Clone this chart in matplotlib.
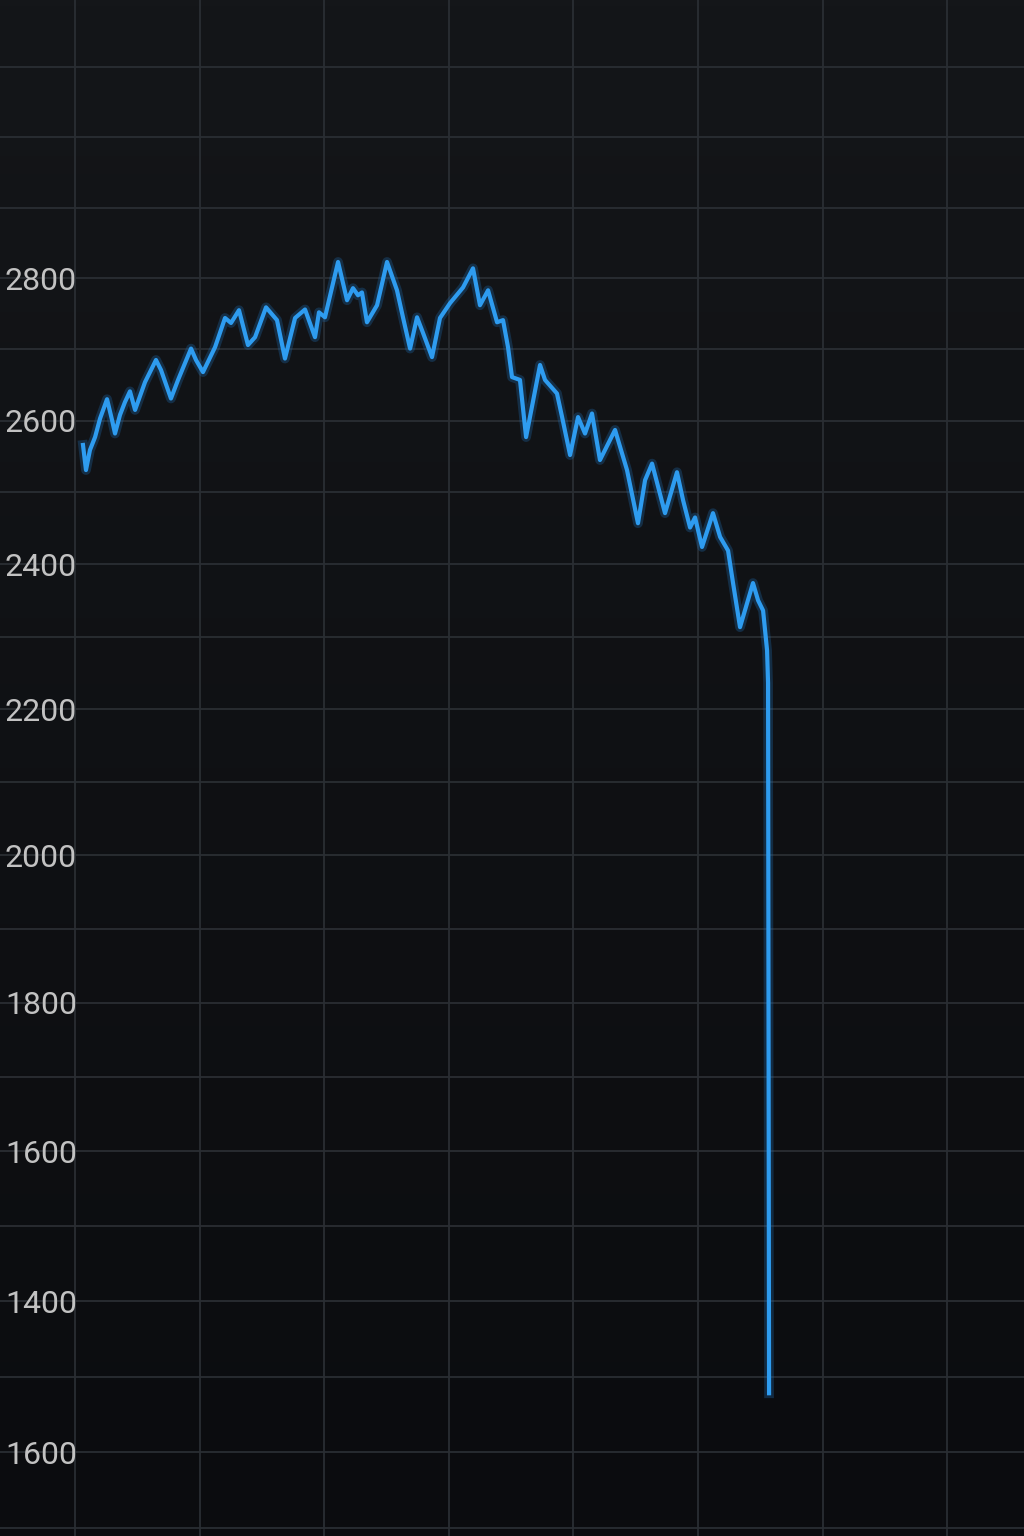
import numpy as np
import matplotlib
matplotlib.use('Agg')
import matplotlib.pyplot as plt

# values (x: day index, grid every 10 days)
day = [0.64, 0.88, 1.20, 1.61, 2.01, 2.57, 2.97, 3.21, 3.61, 4.01,
       4.41, 4.82, 5.62, 6.50, 6.90, 7.70, 8.27, 9.31, 9.71, 10.27,
       11.24, 12.04, 12.52, 13.16, 13.88, 14.45, 15.33, 16.21, 16.85, 17.66,
       18.46, 19.26, 19.58, 20.06, 21.11, 21.83, 22.31, 22.71, 23.03, 23.43,
       24.24, 25.04, 25.84, 26.32, 26.89, 27.45, 27.93, 28.65, 29.29, 30.10,
       31.14, 31.94, 32.50, 33.15, 33.87, 34.35, 34.75, 35.07, 35.71, 36.20,
       37.32, 37.72, 38.68, 39.09, 39.73, 40.37, 40.93, 41.49, 42.13, 43.34,
       44.30, 45.18, 45.75, 46.31, 47.35, 48.31, 48.80, 49.36, 49.76, 50.32,
       51.20, 51.77, 52.41, 52.81, 53.37, 54.41, 54.82, 55.22, 55.54, 55.62,
       55.70]
price = [2566, 2531, 2559, 2577, 2603, 2630, 2601, 2582, 2608, 2626,
         2641, 2615, 2654, 2685, 2671, 2631, 2657, 2701, 2685, 2668,
         2703, 2744, 2737, 2755, 2706, 2717, 2759, 2741, 2687, 2744,
         2756, 2717, 2752, 2745, 2823, 2769, 2786, 2776, 2780, 2738,
         2762, 2823, 2783, 2745, 2701, 2745, 2723, 2689, 2744, 2765,
         2787, 2814, 2762, 2783, 2738, 2741, 2703, 2661, 2657, 2577,
         2678, 2657, 2638, 2605, 2552, 2605, 2582, 2610, 2545, 2587,
         2531, 2457, 2517, 2540, 2471, 2528, 2489, 2451, 2465, 2424,
         2471, 2438, 2419, 2374, 2313, 2374, 2350, 2336, 2281, 2236,
         1278]

y_ticks = [2800, 2600, 2400, 2200, 2000, 1800, 1600, 1400, 1200]
y_labels = ['2800', '2600', '2400', '2200', '2000', '1800', '1600', '1400', '1600']

# the y axis of the original is slightly stretched towards the bottom
A, B = 70.875, 0.156


def fwd(v):
    u = (2800 - np.asarray(v, dtype=float)) / 100
    return -(A * u + B * u * u)


def inv(t):
    p = -np.asarray(t, dtype=float)
    u = (np.sqrt(np.clip(A * A + 4 * B * p, 0, None)) - A) / (2 * B)
    return 2800 - 100 * u


fig = plt.figure(figsize=(10.24, 15.36), dpi=100)
ax = fig.add_axes([0, 0, 1, 1])

# background gradient
grad = np.linspace(0, 1, 256).reshape(-1, 1)
ax.imshow(grad, extent=[0, 1, 0, 1], transform=ax.transAxes, aspect='auto',
          cmap=matplotlib.colors.LinearSegmentedColormap.from_list('bg', ['#0b0c0f', '#141619']),
          origin='lower', zorder=0)

ax.set_yscale('function', functions=(fwd, inv))
ax.set_xlim(-6.02, 76.16)
ax.set_ylim(1090, 3196)

ax.set_xticks(np.arange(0, 80, 10))
ax.set_yticks(y_ticks)
ax.set_yticklabels(y_labels)
ax.set_yticks(np.arange(1100, 3200, 100), minor=True)
ax.yaxis.set_minor_formatter(matplotlib.ticker.NullFormatter())
ax.grid(True, which='both', color='#2a2e33', linewidth=1.3, zorder=1)
ax.tick_params(axis='x', length=0, labelbottom=False)
ax.tick_params(axis='y', which='both', length=0, pad=-55.5,
               labelsize=23, labelcolor='#c2c2c2')
for lab in ax.get_yticklabels():
    lab.set_fontfamily('Roboto')
for s in ax.spines.values():
    s.set_visible(False)

# glow + main line
ax.plot(day, price, color='#1f6fb5', linewidth=7, alpha=0.3, zorder=2)
ax.plot(day, price, color='#2e9cf0', linewidth=3, zorder=3)

fig.savefig('out.png', dpi=100, facecolor='#111316')
